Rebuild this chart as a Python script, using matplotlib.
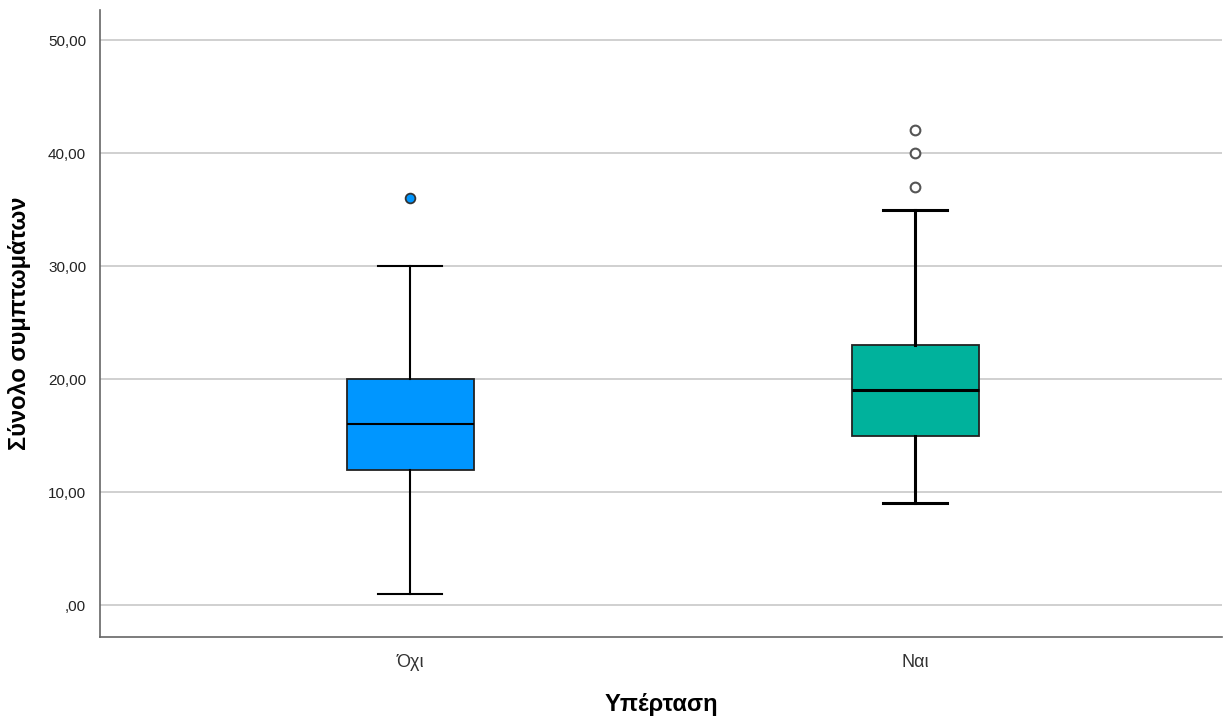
import numpy as np
import matplotlib
matplotlib.use("Agg")
import matplotlib.pyplot as plt
from matplotlib.ticker import FuncFormatter

plt.rcParams["font.family"] = ["Liberation Sans", "DejaVu Sans"]

# Σύνολο συμπτωμάτων ανά ομάδα υπέρτασης
groups = ["Όχι", "Ναι"]
q1 = [12, 15]
med = [16, 19]
q3 = [20, 23]
wlo = [1, 9]
whi = [30, 35]
fliers = [[36], [37, 40, 42]]
colors = ["#0096FF", "#00B29C"]
yticks = [0, 10, 20, 30, 40, 50]


def fmt(v, pos):
    if v == 0:
        return ",00"
    return ("%.2f" % v).replace(".", ",")


fig = plt.figure(figsize=(12.32, 7.24), dpi=100)
ax = fig.add_axes([0.0812, 0.12, 0.9107, 0.866])

for g in range(2):
    st = [{"med": med[g], "q1": q1[g], "q3": q3[g],
           "whislo": wlo[g], "whishi": whi[g], "fliers": []}]
    lw = 1.5 if g == 0 else 2.2
    ax.bxp(st, positions=[g + 1], widths=0.2515, patch_artist=True,
           showfliers=False, manage_ticks=False,
           boxprops=dict(facecolor=colors[g], edgecolor="#222222", linewidth=1.3),
           medianprops=dict(color="black", linewidth=lw),
           whiskerprops=dict(color="black", linewidth=lw),
           capprops=dict(color="black", linewidth=lw),
           capwidths=0.127)

ax.plot([1] * len(fliers[0]), fliers[0], "o", ms=7, mfc=colors[0],
        mec="#333333", mew=1.3, zorder=3)
ax.plot([2] * len(fliers[1]), fliers[1], "o", ms=7, mfc="white",
        mec="#555555", mew=1.5, zorder=3)

ax.set_xlim(0.386, 2.608)
ax.set_ylim(-2.83, 52.65)
ax.set_yticks(yticks)
ax.yaxis.set_major_formatter(FuncFormatter(fmt))
ax.set_xticks([1, 2])
ax.set_xticklabels(groups, fontsize=13, color="#333333")
ax.tick_params(axis="both", length=0)
ax.tick_params(axis="y", labelsize=11, pad=10, labelcolor="#222222")
ax.tick_params(axis="x", pad=12)
ax.grid(axis="y", color="#c8c8c8", linewidth=1.2)
ax.set_axisbelow(True)
for s in ["top", "right"]:
    ax.spines[s].set_visible(False)
for s in ["left", "bottom"]:
    ax.spines[s].set_color("#666666")
    ax.spines[s].set_linewidth(1.2)

ax.set_ylabel("Σύνολο συμπτωμάτων", fontsize=17, fontweight="bold", labelpad=12)
ax.set_xlabel("Υπέρταση", fontsize=17, fontweight="bold", labelpad=16)

fig.savefig("out.png", dpi=100)
